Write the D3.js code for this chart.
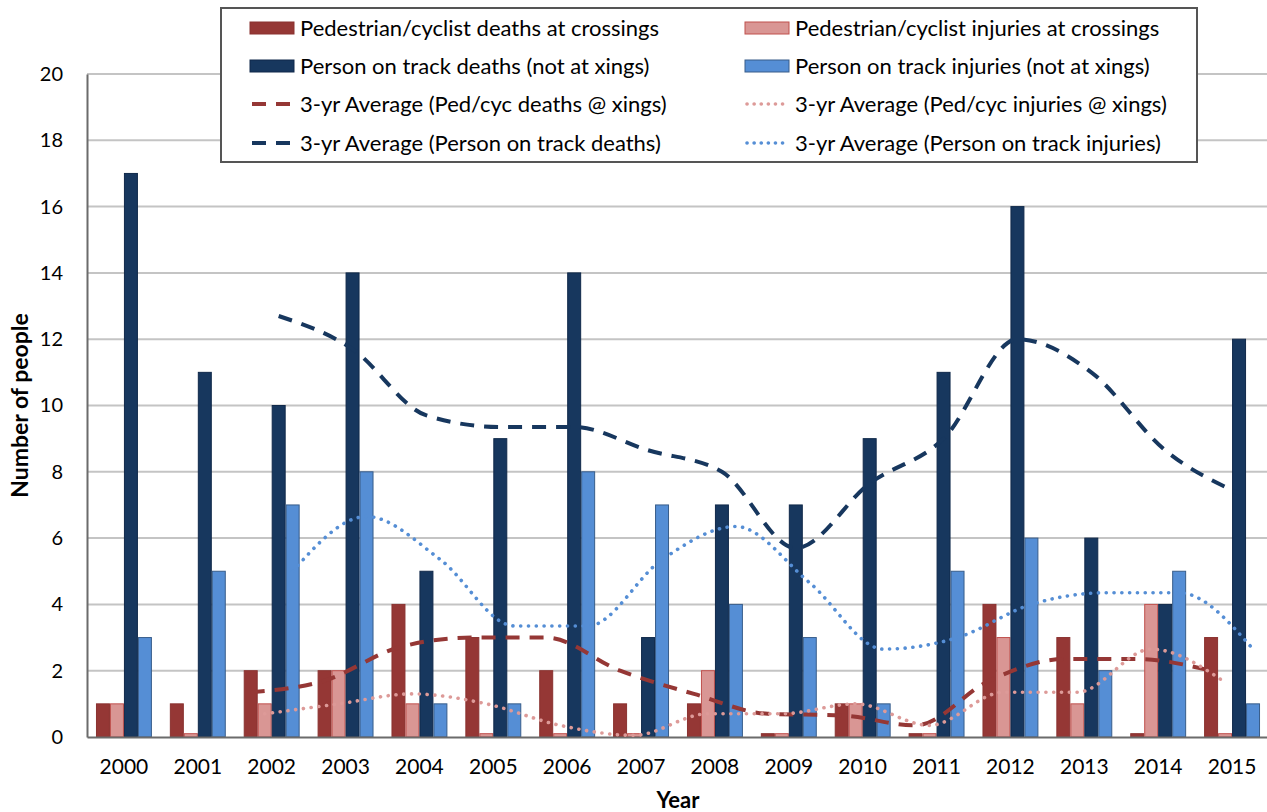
<!DOCTYPE html>
<html>
<head>
<meta charset="utf-8">
<script src="https://cdn.jsdelivr.net/npm/d3@7"></script>
<style>
  body { margin: 0; background: #fff; }
  svg { font-family: Lato, "Open Sans", sans-serif; }
</style>
</head>
<body>
<div id="chart"></div>
<script>
// Categories
var years = ["2000", "2001", "2002", "2003", "2004", "2005", "2006", "2007",
             "2008", "2009", "2010", "2011", "2012", "2013", "2014", "2015"];

// Bar series (tiny slivers in the picture read as 0.1)
var pedDeaths   = [1, 1, 2, 2, 4, 3, 2, 1, 1, 0.1, 1, 0.1, 4, 3, 0.1, 3];
var pedInjuries = [1, 0.1, 1, 2, 1, 0.1, 0.1, 0.1, 2, 0.1, 1, 0.1, 3, 1, 4, 0.1];
var trackDeaths = [17, 11, 10, 14, 5, 9, 14, 3, 7, 7, 9, 11, 16, 6, 4, 12];
var trackInjuries = [3, 5, 7, 8, 1, 1, 8, 7, 4, 3, 1, 5, 6, 2, 5, 1];

// 3-yr average lines (start in 2002)
var avgPedDeaths   = [null, null, 1.35, 1.7, 2.7, 3.0, 3.0, 2.0, 1.3, 0.7, 0.65, 0.35, 1.7, 2.35, 2.35, 2.0];
var avgPedInjuries = [null, null, 0.7, 1.0, 1.3, 1.0, 0.35, 0.05, 0.7, 0.7, 1.0, 0.35, 1.35, 1.35, 2.65, 1.65];
var avgTrackDeaths = [null, null, 12.7, 11.7, 9.7, 9.35, 9.35, 8.65, 8.0, 5.7, 7.65, 9.0, 12.0, 11.0, 8.65, 7.35];
var avgTrackInjuries = [null, null, 5.0, 6.65, 5.35, 3.35, 3.35, 5.35, 6.35, 4.65, 2.65, 3.0, 4.0, 4.35, 4.35, 2.65];

var yTicks = [0, 2, 4, 6, 8, 10, 12, 14, 16, 18, 20];

var barSeries = [
  { key: "pd", name: "Pedestrian/cyclist deaths at crossings", values: pedDeaths, fill: "#953735", stroke: "#8a3230" },
  { key: "pi", name: "Pedestrian/cyclist injuries at crossings", values: pedInjuries, fill: "#d99694", stroke: "#c0504d" },
  { key: "td", name: "Person on track deaths (not at xings)", values: trackDeaths, fill: "#17375e", stroke: "#10294a" },
  { key: "ti", name: "Person on track injuries (not at xings)", values: trackInjuries, fill: "#558ed5", stroke: "#385d8a" }
];

var lineSeries = [
  { key: "pd", name: "3-yr Average (Ped/cyc deaths @ xings)", values: avgPedDeaths, color: "#953735", width: 4, dash: "14,10", cap: "butt" },
  { key: "pi", name: "3-yr Average (Ped/cyc injuries @ xings)", values: avgPedInjuries, color: "#dd9a98", width: 3.6, dash: "0.1,7.7", cap: "round" },
  { key: "td", name: "3-yr Average (Person on track deaths)", values: avgTrackDeaths, color: "#17375e", width: 4, dash: "14,10", cap: "butt" },
  { key: "ti", name: "3-yr Average (Person on track injuries)", values: avgTrackInjuries, color: "#558ed5", width: 3.6, dash: "0.1,7.7", cap: "round" }
];

var width = 1267, height = 812;
var margin = { left: 87, right: -2, top: 74, bottom: 75 };

var svg = d3.select("#chart").append("svg")
  .attr("width", width)
  .attr("height", height);

var x0 = d3.scaleBand()
  .domain(years)
  .range([margin.left, width - margin.right])
  .paddingInner(0.243)
  .paddingOuter(0.1215);

var x1 = d3.scaleBand()
  .domain(barSeries.map(function (s) { return s.key; }))
  .range([0, x0.bandwidth()]);

var y = d3.scaleLinear()
  .domain([0, 20])
  .range([height - margin.bottom, margin.top]);

// Gridlines
svg.append("g")
  .selectAll("line")
  .data(yTicks.filter(function (t) { return t > 0; }))
  .join("line")
  .attr("x1", margin.left)
  .attr("x2", width)
  .attr("y1", function (d) { return y(d); })
  .attr("y2", function (d) { return y(d); })
  .attr("stroke", "#c4c4c4")
  .attr("stroke-width", 2);

// Y axis
var yAxis = d3.axisLeft(y).tickValues(yTicks).tickSize(0).tickPadding(24);
var gy = svg.append("g")
  .attr("transform", "translate(" + margin.left + ",0)")
  .call(yAxis);
gy.select(".domain").attr("stroke", "#6b6b6b").attr("stroke-width", 2);
gy.selectAll("text").attr("font-size", 20).attr("fill", "#000").attr("font-family", "Lato");

// Bars
barSeries.forEach(function (s) {
  svg.append("g")
    .selectAll("rect")
    .data(s.values)
    .join("rect")
    .attr("x", function (d, i) { return x0(years[i]) + x1(s.key) + 0.5; })
    .attr("width", x1.bandwidth() - 1)
    .attr("y", function (d) { return y(d); })
    .attr("height", function (d) { return y(0) - y(d); })
    .attr("fill", s.fill)
    .attr("stroke", s.stroke)
    .attr("stroke-width", 1);
});

// X axis
var xAxis = d3.axisBottom(x0).tickSize(0).tickPadding(22);
var gx = svg.append("g")
  .attr("transform", "translate(0," + y(0) + ")")
  .call(xAxis);
gx.select(".domain").attr("stroke", "#6b6b6b").attr("stroke-width", 2);
gx.selectAll("text").attr("font-size", 21).attr("fill", "#000").attr("font-family", "Lato");

// Average lines
lineSeries.forEach(function (s) {
  var line = d3.line()
    .defined(function (d) { return d != null; })
    .x(function (d, i) { return x0(years[i]) + x1(s.key) + x1.bandwidth() / 2; })
    .y(function (d) { return y(d); })
    .curve(d3.curveMonotoneX);
  svg.append("path")
    .datum(s.values)
    .attr("d", line)
    .attr("fill", "none")
    .attr("stroke", s.color)
    .attr("stroke-width", s.width)
    .attr("stroke-dasharray", s.dash)
    .attr("stroke-linecap", s.cap);
});

// Axis titles
svg.append("text")
  .attr("transform", "translate(28," + ((margin.top + y(0)) / 2) + ") rotate(-90)")
  .attr("text-anchor", "middle")
  .attr("font-size", 23)
  .attr("font-weight", "bold")
  .text("Number of people");

svg.append("text")
  .attr("x", 678)
  .attr("y", 808)
  .attr("text-anchor", "middle")
  .attr("font-size", 22)
  .attr("font-weight", "bold")
  .text("Year");

// Legend
var legend = svg.append("g");
legend.append("rect")
  .attr("x", 221).attr("y", 8)
  .attr("width", 976).attr("height", 154)
  .attr("fill", "#fff")
  .attr("stroke", "#555")
  .attr("stroke-width", 2);

var legendItems = [
  { type: "bar", s: barSeries[0], col: 0, row: 0 },
  { type: "bar", s: barSeries[1], col: 1, row: 0 },
  { type: "bar", s: barSeries[2], col: 0, row: 1 },
  { type: "bar", s: barSeries[3], col: 1, row: 1 },
  { type: "line", s: lineSeries[0], col: 0, row: 2 },
  { type: "line", s: lineSeries[1], col: 1, row: 2 },
  { type: "line", s: lineSeries[2], col: 0, row: 3 },
  { type: "line", s: lineSeries[3], col: 1, row: 3 }
];
var colX = [250, 745], rowY = [28, 66, 104, 143];

legendItems.forEach(function (it) {
  var lx = colX[it.col], ly = rowY[it.row];
  if (it.type === "bar") {
    legend.append("rect")
      .attr("x", lx).attr("y", ly - 6)
      .attr("width", 44).attr("height", 12)
      .attr("fill", it.s.fill)
      .attr("stroke", it.s.stroke);
  } else {
    legend.append("line")
      .attr("x1", lx + 2).attr("x2", lx + 44)
      .attr("y1", ly).attr("y2", ly)
      .attr("stroke", it.s.color)
      .attr("stroke-width", it.s.width)
      .attr("stroke-dasharray", it.s.cap === "round" ? "0.1,7" : "14,10")
      .attr("stroke-linecap", it.s.cap);
  }
  legend.append("text")
    .attr("x", lx + 50).attr("y", ly)
    .attr("dy", "0.35em")
    .attr("font-size", 22)
    .text(it.s.name);
});
</script>
</body>
</html>
